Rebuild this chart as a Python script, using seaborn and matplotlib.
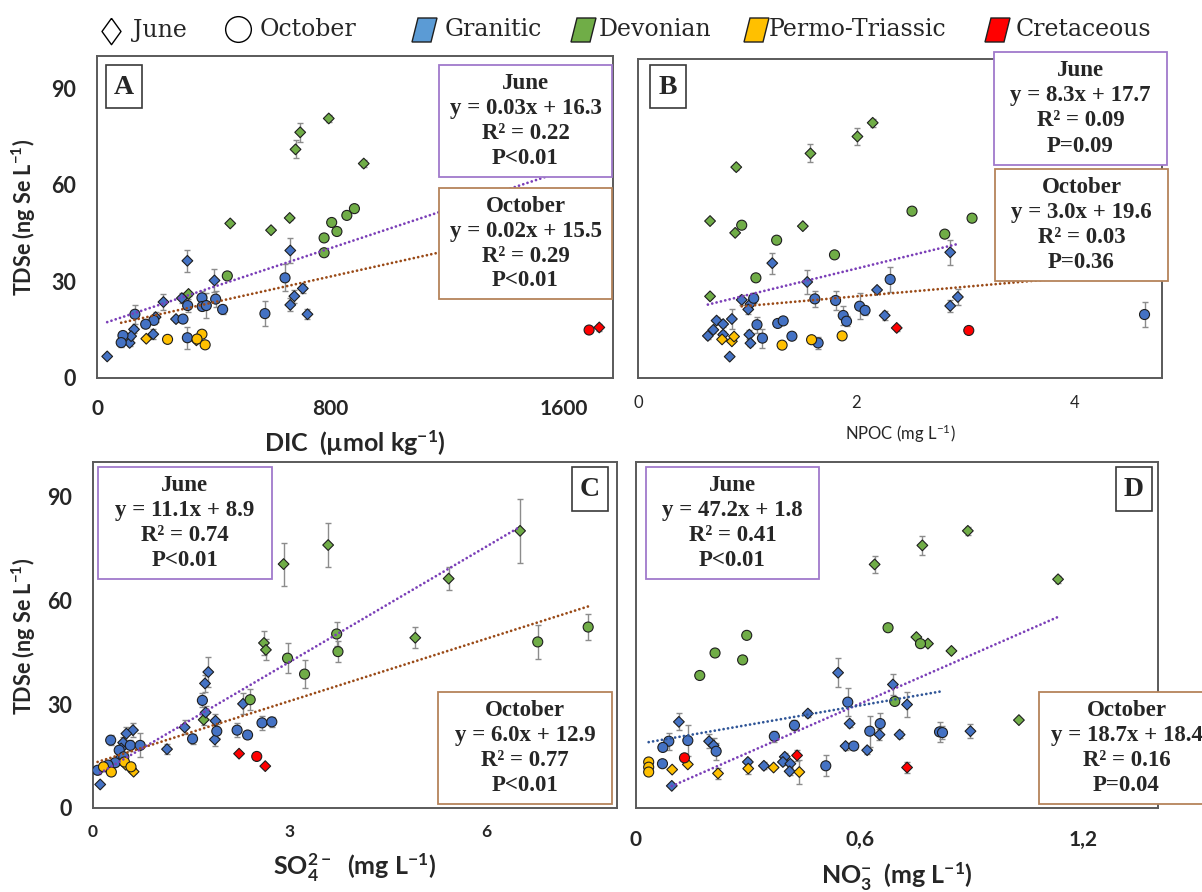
import numpy as np
import pandas as pd
import matplotlib
matplotlib.use("Agg")
import matplotlib.pyplot as plt
import seaborn as sns
from matplotlib.patches import Rectangle, Polygon
from matplotlib.lines import Line2D

# ---------------- data ----------------
# geology codes: D = Devonian, G = Granitic, P = Permo-Triassic, C = Cretaceous
GEO_NAMES = {"G": "Granitic", "D": "Devonian", "P": "Permo-Triassic", "C": "Cretaceous"}
GEO_ORDER = ["Granitic", "Devonian", "Permo-Triassic", "Cretaceous"]

# Panel A: DIC (umol/kg) vs TDSe
A_JUN_X = [795, 697, 681, 915, 457, 597, 661, 314,
           663, 310, 403, 228, 291, 706, 677, 663, 722, 271, 127, 193, 112, 35, 201, 117,
           169, 341,
           1723]
A_JUN_Y = [80.6, 76.3, 71.0, 66.6, 48.0, 45.9, 49.7, 26.1,
           39.6, 36.4, 30.3, 23.6, 24.8, 27.8, 25.4, 22.7, 19.8, 18.3, 15.1, 13.6, 10.9, 6.7, 18.9, 13.0,
           12.2, 11.7,
           15.7]
A_JUN_ERR = [1.0, 3.0, 2.8, 1.0, 0.5, 0.5, 0.5, 0.5,
             4.0, 3.4, 3.5, 2.5, 1.5, 1.5, 2.0, 2.0, 1.5, 1.0, 1.0, 1.5, 1.0, 0.0, 1.5, 1.0,
             0.5, 0.5,
             1.0]
A_JUN_GEO = "DDDDDDDDGGGGGGGGGGGGGGGGPPC"

A_OCT_X = [447, 779, 779, 805, 823, 857, 883,
           645, 576, 130, 311, 360, 361, 375, 407, 431, 295, 195, 167, 89, 83, 310,
           242, 360, 343, 371,
           1688]
A_OCT_Y = [31.7, 38.9, 43.5, 48.3, 45.5, 50.5, 52.6,
           31.1, 20.0, 19.8, 22.5, 24.9, 22.2, 22.5, 24.5, 21.3, 18.3, 17.9, 16.7, 13.2, 11.0, 12.5,
           12.0, 13.6, 12.1, 10.3,
           14.9]
A_OCT_ERR = [0.5, 0.5, 0.5, 0.5, 0.5, 0.5, 0.5,
             4.2, 3.9, 3.0, 2.0, 2.0, 1.0, 4.0, 2.5, 1.5, 1.0, 1.0, 1.0, 1.0, 1.5, 3.4,
             0, 0, 0, 0,
             0]
A_OCT_GEO = "DDDDDDDGGGGGGGGGGGGGGGPPPPC"

# Panel B: NPOC (mg/L) vs TDSe
B_JUN_X = [2.15, 2.01, 1.58, 0.90, 0.66, 0.89, 1.51, 0.66,
           1.23, 1.55, 2.19, 0.95, 1.03, 1.01, 2.26, 0.86, 0.72, 0.78, 0.69, 0.64, 1.02, 1.03, 0.84,
           2.86, 2.93, 2.86, 0.78,
           0.77, 0.86, 0.88,
           2.37]
B_JUN_Y = [80.0, 75.7, 70.4, 66.1, 49.2, 45.5, 47.6, 25.6,
           36.0, 30.1, 27.6, 24.5, 23.2, 21.5, 19.6, 18.5, 18.0, 16.9, 15.1, 13.2, 13.6, 10.9, 6.7,
           39.4, 25.4, 22.6, 13.6,
           12.1, 11.5, 13.0,
           15.7]
B_JUN_ERR = [1.2, 2.8, 2.8, 1.0, 0.5, 0.5, 0.5, 0.5,
             3.3, 3.8, 1.0, 1.5, 1.5, 1.5, 1.5, 3.0, 1.0, 1.0, 1.0, 1.0, 1.5, 1.0, 0.0,
             4.0, 2.5, 2.0, 1.0,
             0.5, 0.5, 0.5,
             1.0]
B_JUN_GEO = "DDDDDDDDGGGGGGGGGGGGGGGGGGGPPPC"

B_OCT_X = [0.95, 1.27, 1.08, 1.80, 2.51, 2.81, 3.06,
           2.31, 1.62, 1.81, 2.03, 2.08, 1.88, 1.91, 1.06, 1.09, 1.28, 1.33, 1.41, 1.14, 1.65, 4.64,
           1.32, 1.59, 1.87,
           3.03]
B_OCT_Y = [47.9, 43.2, 31.4, 38.6, 52.3, 45.1, 50.1,
           30.9, 24.8, 24.3, 22.5, 21.2, 19.6, 17.8, 25.0, 16.7, 17.1, 17.9, 13.1, 12.5, 11.0, 19.9,
           10.3, 12.0, 13.2,
           14.9]
B_OCT_ERR = [0, 0.5, 0, 0, 0, 0, 0,
             4.0, 2.5, 3.0, 4.0, 1.5, 3.0, 1.5, 1.5, 2.5, 0.5, 0.5, 0.5, 3.0, 2.0, 3.9,
             0, 0, 0,
             0]
B_OCT_GEO = "DDDDDDDGGGGGGGGGGGGGGGPPPC"

# Panel C: SO4 (mg/L) vs TDSe
C_JUN_X = [2.91, 3.59, 2.61, 2.64, 1.69, 6.52, 5.43, 4.92,
           1.76, 1.71, 2.29, 1.72, 1.87, 1.40, 1.86, 1.13, 0.61, 0.51, 0.46, 0.11, 0.43, 0.30, 0.23, 0.38,
           0.58, 0.62, 0.50,
           2.23, 2.63]
C_JUN_Y = [70.5, 76.0, 47.7, 45.7, 25.5, 80.1, 66.3, 49.2,
           39.3, 36.0, 30.1, 27.6, 25.2, 23.3, 19.8, 17.0, 22.5, 21.5, 18.9, 6.8, 17.2, 12.8, 11.4, 13.8,
           11.4, 10.5, 12.5,
           15.7, 12.1]
C_JUN_ERR = [6.2, 6.3, 3.5, 3.0, 1.5, 9.3, 3.4, 3.0,
             4.2, 2.5, 3.0, 2.0, 2.0, 2.0, 2.0, 1.5, 2.0, 2.0, 1.5, 0.0, 1.0, 1.0, 1.0, 1.0,
             0.5, 0.5, 0.5,
             0, 0.5]
C_JUN_GEO = "DDDDDDDDGGGGGGGGGGGGGGGGPPPCC"

C_OCT_X = [3.72, 3.74, 2.97, 3.23, 2.40, 6.79, 7.56,
           1.67, 1.89, 1.52, 2.20, 2.36, 2.58, 2.73, 0.27, 0.40, 0.57, 0.72, 0.07, 0.34, 0.47, 0.23,
           0.16, 0.28, 0.48, 0.58,
           2.50]
C_OCT_Y = [50.3, 45.2, 43.3, 38.7, 31.3, 48.0, 52.3,
           31.1, 22.2, 20.0, 22.5, 21.1, 24.6, 24.9, 19.6, 16.7, 18.1, 18.1, 10.9, 13.1, 14.8, 12.4,
           11.9, 10.4, 13.3, 11.9,
           14.9]
C_OCT_ERR = [3.5, 3.0, 4.3, 4.0, 3.0, 4.8, 3.7,
             2.0, 2.0, 1.5, 2.0, 1.0, 2.0, 1.5, 1.5, 1.0, 1.5, 3.5, 1.0, 1.0, 1.0, 1.0,
             0, 0, 0, 0,
             0]
C_OCT_GEO = "DDDDDDDGGGGGGGGGGGGGGGPPPPC"

# Panel D: NO3 (mg/L) vs TDSe
D_JUN_X = [0.640, 0.768, 0.890, 1.132, 0.752, 0.783, 0.846, 1.027,
           0.542, 0.689, 0.115, 0.461, 0.573, 0.196, 0.208, 0.653, 0.707, 0.562, 0.620, 0.300,
           0.343, 0.399, 0.394, 0.414, 0.412, 0.096, 0.727, 0.897,
           0.097, 0.139, 0.220, 0.301, 0.369, 0.438,
           0.432, 0.727]
D_JUN_Y = [70.4, 75.9, 80.1, 66.1, 49.4, 47.5, 45.4, 25.4,
           39.1, 35.7, 24.9, 27.3, 24.4, 19.3, 18.1, 21.2, 21.2, 17.9, 16.7, 13.3,
           12.2, 14.8, 13.3, 12.8, 10.6, 6.4, 29.9, 22.2,
           11.1, 12.6, 10.0, 11.4, 11.7, 10.4,
           15.2, 11.7]
D_JUN_ERR = [2.5, 2.8, 1.2, 1.0, 0, 0, 0, 0,
             4.2, 3.0, 2.5, 1.0, 1.0, 2.0, 2.0, 1.5, 1.0, 1.0, 1.0, 1.0,
             1.0, 1.0, 1.0, 1.0, 1.0, 0, 3.6, 2.0,
             0, 0.5, 1.5, 1.5, 0, 3.5,
             1.5, 1.5]
D_JUN_GEO = "DDDDDDDDGGGGGGGGGGGGGGGGGGGGPPPPPPCC"

D_OCT_X = [0.297, 0.212, 0.286, 0.171, 0.676, 0.694, 0.763,
           0.568, 0.627, 0.655, 0.371, 0.425, 0.088, 0.072, 0.139, 0.215, 0.071, 0.509, 0.584, 0.814, 0.822,
           0.034, 0.034, 0.034,
           0.130]
D_OCT_Y = [49.9, 44.8, 42.8, 38.3, 52.1, 30.8, 47.5,
           30.6, 22.2, 24.4, 20.7, 23.9, 19.3, 17.5, 19.5, 16.4, 12.8, 12.2, 17.9, 22.0, 21.8,
           13.3, 11.8, 10.4,
           14.5]
D_OCT_ERR = [0, 1.0, 1.0, 0, 0, 0, 0,
             4.0, 4.5, 3.0, 1.5, 1.5, 2.5, 0, 4.5, 2.5, 0, 3.0, 0, 3.0, 2.0,
             0, 0, 0,
             0]
D_OCT_GEO = "DDDDDDDGGGGGGGGGGGGGGPPPC"

# regression results printed in the boxes (June, October)
FIT_SLOPE = {"A": [0.03, 0.02], "B": [8.3, 3.0], "C": [11.1, 6.0], "D": [47.2, 18.7]}
FIT_ICPT = {"A": [16.3, 15.5], "B": [17.7, 19.6], "C": [8.9, 12.9], "D": [1.8, 18.4]}
FIT_R2 = {"A": [0.22, 0.29], "B": [0.09, 0.03], "C": [0.74, 0.77], "D": [0.41, 0.16]}
FIT_P = {"A": ["P<0.01", "P<0.01"], "B": ["P=0.09", "P=0.36"],
         "C": ["P<0.01", "P<0.01"], "D": ["P<0.01", "P=0.04"]}
SLOPE_DEC = {"A": 2, "B": 1, "C": 1, "D": 1}

XTICKS = {"A": [0, 800, 1600], "B": [0, 2, 4], "C": [0, 3, 6], "D": [0, 0.6, 1.2]}
XTICKLABELS = {"A": ["0", "800", "1600"], "B": ["0", "2", "4"],
               "C": ["0", "3", "6"], "D": ["0", "0,6", "1,2"]}
XLIM = {"A": (0, 1770), "B": (0, 4.8), "C": (0, 8.0), "D": (0, 1.40)}
YTICKS = [0, 30, 60, 90]
SEASONS = ["June", "October"]

DATA = {
    "A": [(A_JUN_X, A_JUN_Y, A_JUN_ERR, A_JUN_GEO), (A_OCT_X, A_OCT_Y, A_OCT_ERR, A_OCT_GEO)],
    "B": [(B_JUN_X, B_JUN_Y, B_JUN_ERR, B_JUN_GEO), (B_OCT_X, B_OCT_Y, B_OCT_ERR, B_OCT_GEO)],
    "C": [(C_JUN_X, C_JUN_Y, C_JUN_ERR, C_JUN_GEO), (C_OCT_X, C_OCT_Y, C_OCT_ERR, C_OCT_GEO)],
    "D": [(D_JUN_X, D_JUN_Y, D_JUN_ERR, D_JUN_GEO), (D_OCT_X, D_OCT_Y, D_OCT_ERR, D_OCT_GEO)],
}

# ---------------- style / layout ----------------
POINT_COLORS = {"Granitic": "#4472C4", "Devonian": "#70AD47",
                "Permo-Triassic": "#FFC000", "Cretaceous": "#FF0000"}
LEGEND_COLORS = {"Granitic": "#5B9BD5", "Devonian": "#70AD47",
                 "Permo-Triassic": "#FFC000", "Cretaceous": "#FF0000"}
FIT_COLOR = {"A": ["#7B3FB8", "#9A4A17"], "B": ["#7B3FB8", "#9A4A17"],
             "C": ["#7B3FB8", "#9A4A17"], "D": ["#7B3FB8", "#2F5597"]}
BOX_EDGE = ["#A07ACB", "#B5835A"]

W, H = 1202, 892
AX_BOX = {"A": (97, 56, 613, 378), "B": (638, 59, 1162, 378),
          "C": (93, 462, 617, 808), "D": (636, 462, 1158, 808)}
STAT_BOX = {"A": [(439, 65, 612, 177), (439, 188, 612, 299)],
            "B": [(994, 52, 1167, 165), (995, 169, 1168, 281)],
            "C": [(98, 467, 272, 579), (438, 692, 612, 804)],
            "D": [(646, 467, 819, 579), (1039, 692, 1214, 804)]}
LETTER_BOX = {"A": (106, 65, 142, 108), "B": (650, 65, 686, 108),
              "C": (572, 467, 608, 511), "D": (1116, 467, 1152, 511)}
XLABELS = {"A": r"DIC  (µmol kg$^{-1}$)", "B": r"NPOC (mg L$^{-1}$)",
           "C": r"SO$_4^{2-}$  (mg L$^{-1}$)", "D": r"NO$_3^{-}$  (mg L$^{-1}$)"}
XLABEL_POS = {"A": (355, 443), "B": (900, 434), "C": (355, 868), "D": (897, 877)}
XLABEL_FONT = {"A": (18, "bold"), "B": (12, "normal"), "C": (18, "bold"), "D": (18, "bold")}
XTICK_FONT = {"A": (15, "bold", 15), "B": (12, "normal", 12),
              "C": (12.5, "bold", 11.5), "D": (15, "bold", 16)}

sns.set_style("white")
plt.rcParams["font.family"] = ["Lato", "DejaVu Sans"]
plt.rcParams["mathtext.default"] = "regular"
SERIF = ["Liberation Serif", "DejaVu Serif"]

fig = plt.figure(figsize=(W / 100, H / 100), dpi=100)


def fx(x):
    return x / W


def fy(y):
    return 1 - y / H


def fig_box(x0, y0, x1, y1, edge, lw, z=5):
    r = Rectangle((fx(x0), fy(y1)), (x1 - x0) / W, (y1 - y0) / H, transform=fig.transFigure,
                  facecolor="white", edgecolor=edge, lw=lw, zorder=z, clip_on=False)
    fig.add_artist(r)


for key in "ABCD":
    x0, y0, x1, y1 = AX_BOX[key]
    ax = fig.add_axes([fx(x0), fy(y1), (x1 - x0) / W, (y1 - y0) / H])
    frames = []
    for (xs, ys, errs, geos), marker, size in zip(DATA[key], ["D", "o"], [30, 52]):
        df = pd.DataFrame({"x": xs, "y": ys, "err": errs, "geo": [GEO_NAMES[g] for g in geos]})
        frames.append(df)
        e = df[df.err > 0]
        ax.errorbar(e.x, e.y, yerr=e.err, fmt="none", ecolor="#8c8c8c", elinewidth=1.0,
                    capsize=2.2, capthick=1.0, zorder=2)
        sns.scatterplot(data=df, x="x", y="y", hue="geo", hue_order=GEO_ORDER, palette=POINT_COLORS,
                        marker=marker, s=size, edgecolor="#1e1e1e", linewidth=0.8,
                        legend=False, ax=ax, zorder=3)
    # trend lines (equations from the boxes), drawn over each season's x range
    for df, slope, icpt, color in zip(frames, FIT_SLOPE[key], FIT_ICPT[key], FIT_COLOR[key]):
        xr = np.array([df.x.min(), df.x.max()])
        ax.plot(xr, slope * xr + icpt, color=color, lw=2.0, linestyle=(0, (0.01, 1.6)),
                dash_capstyle="round", zorder=4)

    ax.set_xlim(*XLIM[key])
    ax.set_ylim(0, 100)
    ax.set_xticks(XTICKS[key])
    fs, fw, pad = XTICK_FONT[key]
    ax.set_xticklabels(XTICKLABELS[key], fontsize=fs, fontweight=fw)
    ax.set_yticks(YTICKS)
    if key in "AC":
        ax.set_yticklabels([str(v) for v in YTICKS], fontsize=15.5, fontweight="bold")
    else:
        ax.set_yticklabels([])
    ax.tick_params(axis="x", length=0, pad=pad)
    ax.tick_params(axis="y", length=0, pad=15)
    ax.set_xlabel("")
    ax.set_ylabel("")
    for sp in ax.spines.values():
        sp.set_color("#5a5a5a")
        sp.set_linewidth(1.4)

    # x label
    lx, ly = XLABEL_POS[key]
    fs, fw = XLABEL_FONT[key]
    fig.text(fx(lx), fy(ly), XLABELS[key], ha="center", va="center", fontsize=fs, fontweight=fw)

    # panel letter
    bx0, by0, bx1, by1 = LETTER_BOX[key]
    fig_box(bx0, by0, bx1, by1, "#3a3a3a", 1.2)
    fig.text(fx((bx0 + bx1) / 2), fy((by0 + by1) / 2 + 1), key, ha="center", va="center",
             family=SERIF, fontweight="bold", fontsize=20, zorder=6)

    # regression boxes
    d = SLOPE_DEC[key]
    for i, season in enumerate(SEASONS):
        sx0, sy0, sx1, sy1 = STAT_BOX[key][i]
        fig_box(sx0, sy0, sx1, sy1, BOX_EDGE[i], 1.3)
        txt = (f"{season}\ny = {FIT_SLOPE[key][i]:.{d}f}x + {FIT_ICPT[key][i]:.1f}\n"
               f"R² = {FIT_R2[key][i]:.2f}\n{FIT_P[key][i]}")
        fig.text(fx((sx0 + sx1) / 2), fy((sy0 + sy1) / 2), txt, ha="center", va="center",
                 family=SERIF, fontweight="bold", fontsize=16.5, linespacing=1.25, zorder=6)

# y axis titles
for yc in (217, 636):
    fig.text(fx(24), fy(yc), r"TDSe (ng Se L$^{-1}$)", rotation=90, ha="center", va="center",
             fontsize=15.5, fontweight="bold")

# ---------------- legend along the top ----------------
LEG_FONT = dict(family=["DejaVu Serif"], fontsize=17, va="center", ha="left")
fig.add_artist(Line2D([fx(111)], [fy(31)], marker=[(0, 1), (0.72, 0), (0, -1), (-0.72, 0), (0, 1)],
                      markersize=19, mfc="white", mec="black", mew=1.0, transform=fig.transFigure))
fig.text(fx(133), fy(30), "June", **LEG_FONT)
fig.add_artist(Line2D([fx(238)], [fy(29)], marker="o", markersize=18.5, mfc="white", mec="black",
                      mew=1.0, transform=fig.transFigure))
fig.text(fx(260), fy(30), "October", **LEG_FONT)

LEG_PATCH_X = [412, 571, 744, 985]
LEG_TEXT_X = [445, 599, 769, 1016]
for name, px, tx in zip(GEO_ORDER, LEG_PATCH_X, LEG_TEXT_X):
    verts = [(fx(px), fy(42)), (fx(px + 19), fy(42)), (fx(px + 25), fy(18)), (fx(px + 6), fy(18))]
    fig.add_artist(Polygon(verts, closed=True, transform=fig.transFigure,
                           facecolor=LEGEND_COLORS[name], edgecolor="#1f1f1f", lw=1.0))
    fig.text(fx(tx), fy(30), name, **LEG_FONT)

fig.savefig("out.png", dpi=100)
